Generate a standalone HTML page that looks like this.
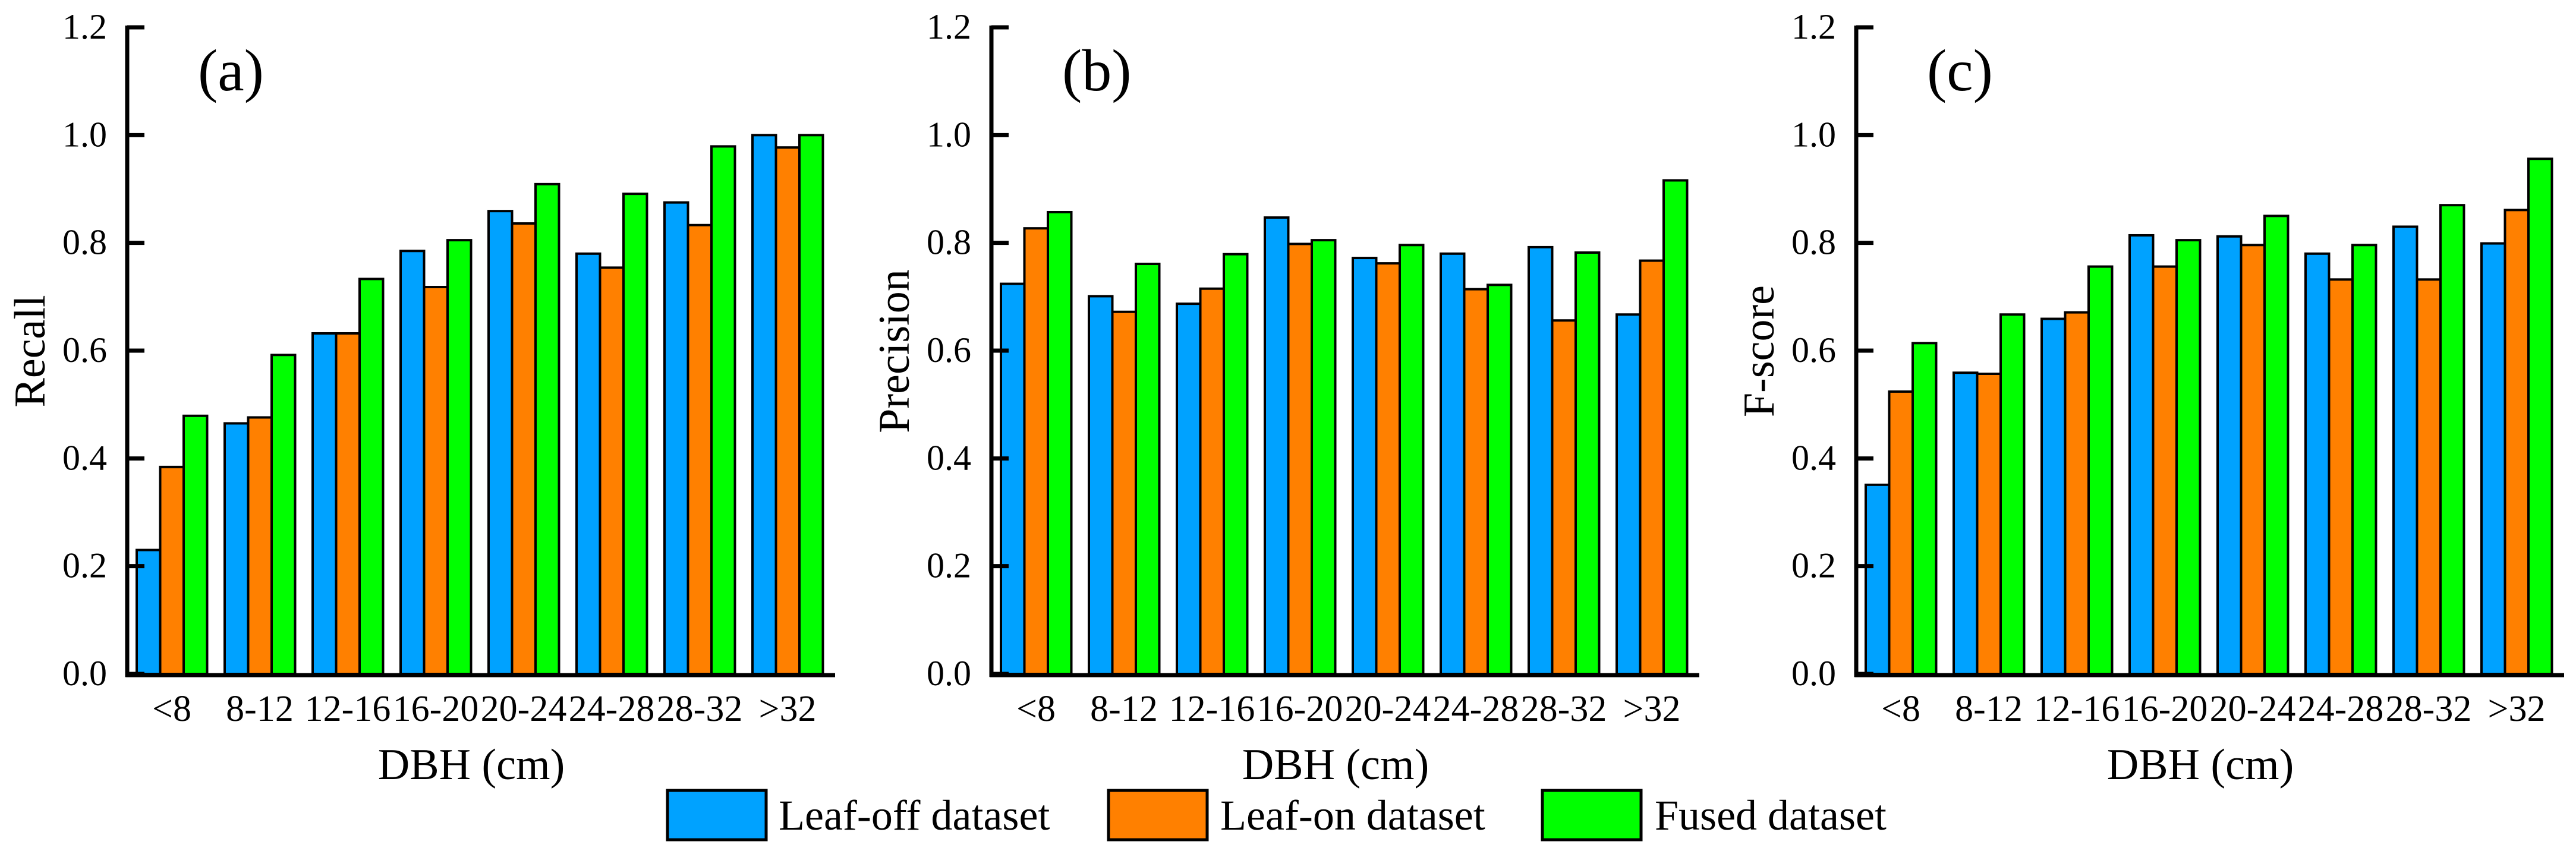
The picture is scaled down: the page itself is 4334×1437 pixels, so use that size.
<!DOCTYPE html>
<html><head><meta charset="utf-8">
<style>
html,body{margin:0;padding:0;background:#fff;}
svg{display:block;font-family:"Liberation Serif","DejaVu Serif","Times New Roman",serif;}
svg text{font-family:"Liberation Serif","DejaVu Serif","Times New Roman",serif;fill:#000;}
</style></head>
<body>
<svg id="chart" width="4334" height="1437" viewBox="0 0 4334 1437" xmlns="http://www.w3.org/2000/svg" font-family="Liberation Serif, DejaVu Serif, serif">
<g id="legend">
  <g>
    <rect x="1123" y="1330" width="166" height="83" fill="#00a2ff" stroke="#000" stroke-width="5"/>
    <text x="1310" y="1396" font-size="72" font-family="Liberation Serif, DejaVu Serif, serif">Leaf-off dataset</text>
  </g>
  <g>
    <rect x="1865" y="1330" width="166" height="83" fill="#ff8000" stroke="#000" stroke-width="5"/>
    <text x="2053" y="1396" font-size="72" font-family="Liberation Serif, DejaVu Serif, serif">Leaf-on dataset</text>
  </g>
  <g>
    <rect x="2595" y="1330" width="166" height="83" fill="#00ff00" stroke="#000" stroke-width="5"/>
    <text x="2784" y="1396" font-size="72" font-family="Liberation Serif, DejaVu Serif, serif">Fused dataset</text>
  </g>
</g>
</svg>
<script>
const categories = ["<8","8-12","12-16","16-20","20-24","24-28","28-32",">32"];
const yTicks = [0,0.2,0.4,0.6,0.8,1.0,1.2];
const yTickLabels = ["0.0","0.2","0.4","0.6","0.8","1.0","1.2"];
const seriesNames = ["Leaf-off dataset","Leaf-on dataset","Fused dataset"];
const recallLeafOff = [0.230,0.465,0.632,0.785,0.859,0.780,0.875,1.000];
const recallLeafOn = [0.384,0.476,0.632,0.718,0.836,0.754,0.833,0.977];
const recallFused = [0.479,0.592,0.733,0.805,0.909,0.891,0.979,1.000];
const precisionLeafOff = [0.724,0.701,0.687,0.847,0.772,0.780,0.792,0.667];
const precisionLeafOn = [0.827,0.672,0.715,0.798,0.762,0.714,0.656,0.767];
const precisionFused = [0.857,0.761,0.779,0.805,0.796,0.722,0.782,0.916];
const fscoreLeafOff = [0.351,0.559,0.659,0.814,0.812,0.780,0.830,0.799];
const fscoreLeafOn = [0.524,0.557,0.671,0.756,0.796,0.732,0.732,0.861];
const fscoreFused = [0.614,0.667,0.756,0.805,0.850,0.796,0.870,0.956];

const svg = document.getElementById('chart');
const NS = 'http://www.w3.org/2000/svg';
const FONT = 'Liberation Serif, DejaVu Serif, serif';
const colors = ["#00a2ff","#ff8000","#00ff00"];
const panels = [
  {id:'a', label:'(a)', ytitle:'Recall', off:0, data:[recallLeafOff,recallLeafOn,recallFused]},
  {id:'b', label:'(b)', ytitle:'Precision', off:1454, data:[precisionLeafOff,precisionLeafOn,precisionFused]},
  {id:'c', label:'(c)', ytitle:'F-score', off:2909, data:[fscoreLeafOff,fscoreLeafOn,fscoreFused]}
];
function mk(tag, attrs, parent){
  const e = document.createElementNS(NS, tag);
  for (const k in attrs) e.setAttribute(k, attrs[k]);
  if (tag === 'text') e.setAttribute('font-family', FONT);
  parent.appendChild(e);
  return e;
}
const Y0 = 1134, Y12 = 46, YMAX = 1.2;
function yScale(v){ return Y0 - (v / YMAX) * (Y0 - Y12); }
const bandStart = 215, bandW = 148, barW = 39.5, groupPad = 15;
function xBar(i, s, off){ return off + bandStart + i*bandW + groupPad + s*barW; }

panels.forEach(p => {
  const g = mk('g', {}, svg);
  
  
  const ax = 214 + p.off;
  p.data.forEach((arr, s) => {
    arr.forEach((v, i) => {
      const y = yScale(v);
      const r = mk('rect', {x: xBar(i,s,p.off), y: y, width: barW, height: Y0 - y, fill: colors[s], stroke: '#000', 'stroke-width': 4}, g);
      
      
    });
  });
  const yAxis = mk('line', {x1: ax, y1: Y12 - 3, x2: ax, y2: Y0 + 5, stroke: '#000', 'stroke-width': 7}, g);
  
  
  const xAxis = mk('line', {x1: ax - 3, y1: Y0 + 2, x2: 1405 + p.off, y2: Y0 + 2, stroke: '#000', 'stroke-width': 7}, g);
  
  
  yTicks.forEach((t, k) => {
    const y = yScale(t);
    const tk = mk('line', {x1: ax, y1: y, x2: ax + 29, y2: y, stroke: '#000', 'stroke-width': 7}, g);
    
    
    const tl = mk('text', {x: ax - 34, y: y + 19, 'font-size': 60, 'text-anchor': 'end'}, g);
    tl.textContent = yTickLabels[k];
    
    
  });
  categories.forEach((c, i) => {
    const cx = p.off + bandStart + i*bandW + bandW/2;
    const cl = mk('text', {x: cx, y: 1213, 'font-size': 62, 'text-anchor': 'middle'}, g);
    cl.textContent = c;
    
    
  });
  const xt = mk('text', {x: 793 + p.off, y: 1311, 'font-size': 74, 'text-anchor': 'middle'}, g);
  xt.textContent = 'DBH (cm)';
  
  
  const yt = mk('text', {x: 0, y: 0, 'font-size': 74, 'text-anchor': 'middle', transform: 'translate(' + (75 + p.off) + ',591) rotate(-90)'}, g);
  yt.textContent = p.ytitle;
  
  
  const pl = mk('text', {x: 333 + p.off, y: 152, 'font-size': 100}, g);
  pl.textContent = p.label;
  
  
});
</script>
</body></html>
